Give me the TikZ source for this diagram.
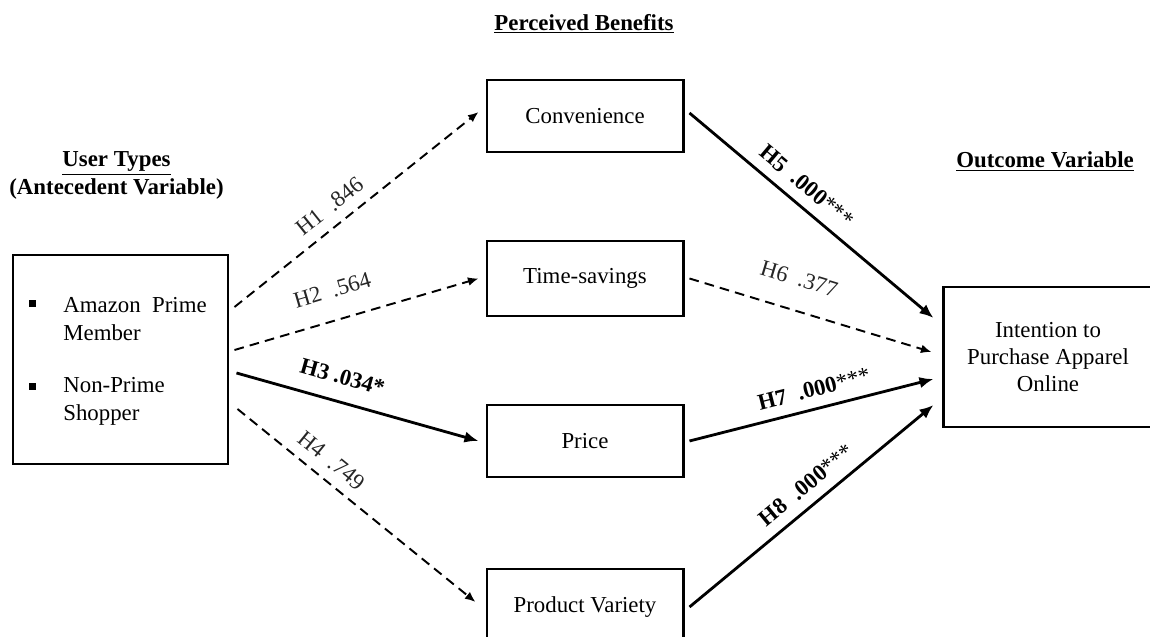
\documentclass[tikz,border=0pt]{standalone}
\usepackage{fontspec}
\setmainfont{Liberation Serif}
\usetikzlibrary{arrows.meta}

\tikzset{
  varbox/.style={draw, line width=1.7pt, minimum width=3.92cm, inner sep=2pt, align=center},
  sig/.style={-{Latex[length=8pt,width=6.5pt]}, line width=1.6pt},
  nonsig/.style={-{Latex[length=6pt,width=5pt]}, line width=1.1pt, dash pattern=on 5.5pt off 3.5pt},
  hyp/.style={sloped, above=5pt, inner sep=1pt, text=black!85},
  hypsig/.style={sloped, above=5pt, inner sep=1pt, font=\fontsize{13}{15.6}\selectfont\bfseries},
  bullet/.style={fill, inner sep=0pt, minimum size=0.14cm}
}

\begin{document}
\begin{tikzpicture}[font=\fontsize{13}{15.6}\selectfont]
\useasboundingbox (0,0) rectangle (23,-12.74);
\node (hBen) at (11.68,-0.48) {\textbf{\underline{Perceived Benefits}}};
\node[align=center] (hUser) at (2.33,-3.51) {\textbf{\underline{User Types}}\\\textbf{(Antecedent Variable)}};
\node (hOut) at (20.9,-3.24) {\textbf{\underline{Outcome Variable}}};

\node[varbox, minimum width=4.3cm, minimum height=4.18cm] (user) at (2.41,-7.19) {};
\node[varbox, minimum height=1.44cm] (conv) at (11.7,-2.32) {Convenience};
\node[varbox, minimum height=1.5cm] (time) at (11.7,-5.57) {Time-savings};
\node[varbox, minimum height=1.44cm] (price) at (11.7,-8.82) {Price};
\node[varbox, minimum height=1.52cm] (variety) at (11.7,-12.14) {Product Variety};
\node[varbox, minimum width=4.2cm, minimum height=2.8cm] (outcome) at (20.96,-7.14) {Intention to\\Purchase Apparel\\Online};

\node[bullet] (b1) at (0.64,-6.08) {};
\node[bullet] (b2) at (0.64,-7.74) {};
\node[anchor=west, align=left, inner sep=0pt] (prime) at (1.26,-6.38) {Amazon\hspace{0.5em}Prime\\Member};
\node[anchor=west, align=left, inner sep=0pt] (nonprime) at (1.26,-8.03) {Non-Prime\\Shopper};

\draw[nonsig] ([xshift=0.1cm,yshift=1.05cm]user.east) -- ([xshift=-0.14cm,yshift=0.08cm]conv.west) node[hyp, pos=0.44] {H1~~.846};
\draw[nonsig] ([xshift=0.1cm,yshift=0.19cm]user.east) -- ([xshift=-0.14cm]time.west) node[hyp, pos=0.435, above=6pt] {H2~~.564};
\draw[sig] ([xshift=0.14cm,yshift=-0.27cm]user.east) -- ([xshift=-0.14cm]price.west) node[hypsig, pos=0.41, above=3pt] {H3 .034*};
\draw[nonsig] ([xshift=0.16cm,yshift=-0.99cm]user.east) -- ([xshift=-0.2cm,yshift=0.1cm]variety.west) node[hyp, pos=0.345] {H4~~.749};

\draw[sig] ([xshift=0.1cm,yshift=0.06cm]conv.east) -- ([xshift=-0.16cm,yshift=0.78cm]outcome.west) node[hypsig, pos=0.43] {H5~~.000\mdseries***};
\draw[nonsig] ([xshift=0.1cm]time.east) -- ([xshift=-0.2cm,yshift=0.1cm]outcome.west) node[hyp, pos=0.415, above=7pt] {H6~~.377};
\draw[sig] ([xshift=0.1cm]price.east) -- ([xshift=-0.16cm,yshift=-0.44cm]outcome.west) node[hypsig, pos=0.53] {H7~~.000\mdseries***};
\draw[sig] ([xshift=0.1cm]variety.east) -- ([xshift=-0.16cm,yshift=-0.96cm]outcome.west) node[hypsig, pos=0.53] {H8~~.000\mdseries***};
\end{tikzpicture}
\end{document}
